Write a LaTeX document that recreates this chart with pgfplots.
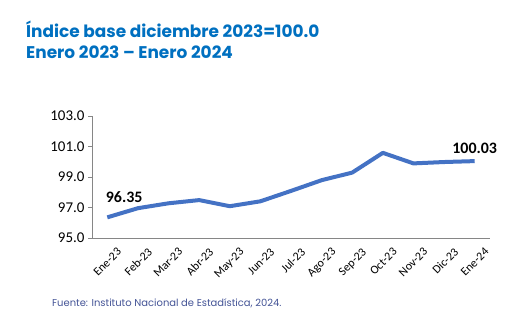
\documentclass[border=0pt]{standalone}
\usepackage{fontspec}
\setmainfont{Carlito}
\newfontfamily\titlefont{Poppins}
\newfontfamily\srcfont{Poppins}
\usepackage{pgfplots}
\pgfplotsset{compat=1.18}
\definecolor{titleblue}{RGB}{0,112,192}
\definecolor{lineblue}{RGB}{68,114,196}
\definecolor{srcblue}{RGB}{68,84,150}
\definecolor{axgray}{RGB}{134,134,134}
\begin{document}
\begin{tikzpicture}
\path[use as bounding box] (0bp,0bp) rectangle (510bp,326bp);
\node[anchor=north west, align=left, inner sep=0pt, text=titleblue, font=\titlefont\bfseries\fontsize{17}{21}\selectfont] at (26bp,305bp) {Índice base diciembre 2023=100.0\\Enero 2023 – Enero 2024};
\node[anchor=west, inner sep=0pt, text=srcblue, font=\srcfont\fontsize{10}{11}\selectfont] at (52bp,23bp) {Fuente: Instituto Nacional de Estadística, 2024.};
\begin{axis}[
  at={(92bp,88bp)}, anchor=south west,
  scale only axis, width=398bp, height=122.3bp,
  xmin=-0.5, xmax=12.5, ymin=95, ymax=103,
  axis lines=left, axis line style={draw=axgray, -},
  xtick={0,...,12},
  xticklabels={Ene-23,Feb-23,Mar-23,Abr-23,May-23,Jun-23,Jul-23,Ago-23,Sep-23,Oct-23,Nov-23,Dic-23,Ene-24},
  x tick label style={rotate=45, anchor=north east, font=\fontsize{12}{13}\selectfont, inner sep=1pt, xshift=4bp, yshift=-9bp},
  major x tick style={draw=none},
  extra x ticks={-0.5,0.5,...,12.5},
  extra x tick labels={},
  extra x tick style={tick style={draw=axgray}, major tick length=4bp, tick align=outside},
  ytick={95,97,99,101,103},
  yticklabel style={font=\fontsize{15}{16}\selectfont, /pgf/number format/.cd, fixed, fixed zerofill, precision=1},
  /pgf/number format/assume math mode=true,
  ytick style={draw=axgray}, tick align=outside, major tick length=4bp,
  clip=false,
]
\addplot[color=lineblue, line width=4bp, line join=round] coordinates {
(0,96.35) (1,96.95) (2,97.27) (3,97.48) (4,97.08) (5,97.40) (6,98.08) (7,98.78) (8,99.28) (9,100.57) (10,99.88) (11,99.97) (12,100.03)
};
\node[font=\bfseries\fontsize{16}{17}\selectfont] at (axis cs:0.55,97.67) {96.35};
\node[font=\bfseries\fontsize{16}{17}\selectfont] at (axis cs:12,100.88) {100.03};
\end{axis}
\end{tikzpicture}
\end{document}
